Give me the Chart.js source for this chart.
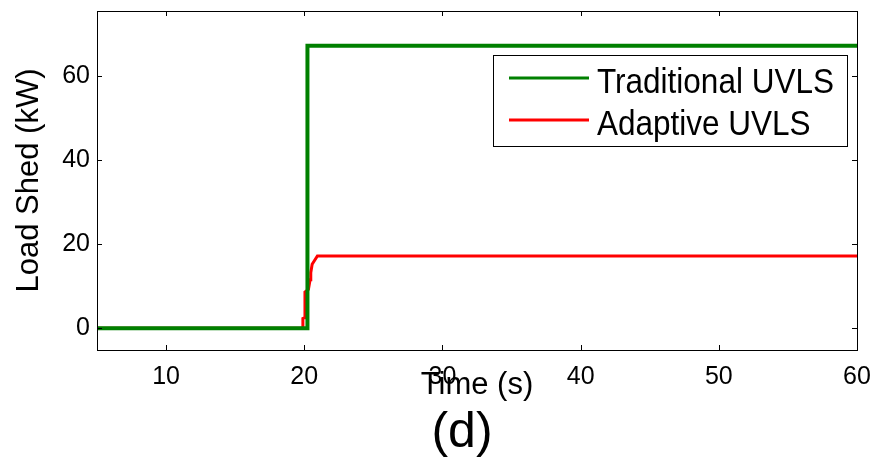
<!DOCTYPE html>
<html>
<head>
<meta charset="utf-8">
<script src="https://cdn.jsdelivr.net/npm/chart.js@4"></script>
<style>
  html, body { margin: 0; padding: 0; background: #fff; }
  #wrap { width: 873px; height: 459px; }
</style>
</head>
<body>
<div id="wrap"><canvas id="loadChart" width="873" height="459"></canvas></div>
<script>
// Load shed vs time
var tradTime = [5, 20.2, 20.23, 60];
var tradLoad = [0, 0, 67.2, 67.2];

var adaptTime = [5, 19.88, 19.9, 20.02, 20.05, 20.3, 20.42, 20.47, 20.57, 20.95, 60];
var adaptLoad = [0, 0, 2.3, 2.5, 8.6, 9.2, 11.5, 13.2, 15.2, 17.2, 17.2];

var xTickValues = [10, 20, 30, 40, 50, 60];
var yTickValues = [0, 20, 40, 60];

var seriesLabels = ['Traditional UVLS', 'Adaptive UVLS'];
var seriesColors = ['#008000', '#ff0000'];

function toPoints(xs, ys) {
  return xs.map(function (x, i) { return { x: x, y: ys[i] }; });
}

var FONT = "'Liberation Sans', Arial, sans-serif";

// box with inward ticks on all four sides, MATLAB style
var boxPlugin = {
  id: 'boxTicks',
  afterDatasetsDraw: function (chart) {
    var ctx = chart.ctx;
    var a = chart.chartArea;
    var xs = chart.scales.x, ys = chart.scales.y;
    var len = 5;
    ctx.save();
    ctx.strokeStyle = '#000';
    ctx.lineWidth = 1;
    ctx.strokeRect(a.left + 0.5, a.top + 0.5, a.right - a.left, a.bottom - a.top);
    ctx.beginPath();
    xTickValues.forEach(function (v) {
      var px = Math.round(xs.getPixelForValue(v)) + 0.5;
      ctx.moveTo(px, a.bottom); ctx.lineTo(px, a.bottom - len);
      ctx.moveTo(px, a.top); ctx.lineTo(px, a.top + len);
    });
    yTickValues.forEach(function (v) {
      var py = Math.round(ys.getPixelForValue(v)) + 0.5;
      ctx.moveTo(a.left, py); ctx.lineTo(a.left + len, py);
      ctx.moveTo(a.right, py); ctx.lineTo(a.right - len, py);
    });
    ctx.stroke();
    ctx.restore();
  }
};

// legend box in the upper right and the "(d)" caption
var legendPlugin = {
  id: 'boxLegend',
  afterDraw: function (chart) {
    var ctx = chart.ctx;
    var a = chart.chartArea;
    var right = a.right - 10, left = right - 354;
    var top = a.top + 44, bottom = top + 91;
    ctx.save();
    ctx.fillStyle = '#fff';
    ctx.fillRect(left, top, right - left, bottom - top);
    ctx.strokeStyle = '#000';
    ctx.lineWidth = 1;
    ctx.strokeRect(left + 0.5, top + 0.5, right - left, bottom - top);

    chart.data.datasets.forEach(function (ds, i) {
      var y = top + 23 + i * 42;
      ctx.strokeStyle = ds.borderColor;
      ctx.lineWidth = 3;
      ctx.beginPath();
      ctx.moveTo(left + 16, y);
      ctx.lineTo(left + 96, y);
      ctx.stroke();

      ctx.save();
      ctx.translate(left + 104, y + 15);
      ctx.scale(0.9, 1);
      ctx.fillStyle = '#000';
      ctx.font = '35px ' + FONT;
      ctx.textBaseline = 'alphabetic';
      ctx.fillText(ds.label, 0, 0);
      ctx.restore();
    });

    ctx.fillStyle = '#000';
    ctx.font = '50px ' + FONT;
    ctx.textAlign = 'center';
    ctx.textBaseline = 'alphabetic';
    ctx.fillText('(d)', 462, 447);
    ctx.restore();
  }
};

var ctx = document.getElementById('loadChart').getContext('2d');

var loadChart = new Chart(ctx, {
  type: 'line',
  data: {
    datasets: [{
      label: seriesLabels[0],
      data: toPoints(tradTime, tradLoad),
      borderColor: seriesColors[0],
      borderWidth: 4,
      pointRadius: 0,
      tension: 0,
      fill: false
    }, {
      label: seriesLabels[1],
      data: toPoints(adaptTime, adaptLoad),
      borderColor: seriesColors[1],
      borderWidth: 3,
      pointRadius: 0,
      tension: 0,
      fill: false
    }]
  },
  options: {
    responsive: false,
    animation: false,
    events: [],
    layout: { padding: { top: 11, right: 16, left: 0, bottom: 0 } },
    plugins: {
      legend: { display: false },
      tooltip: { enabled: false }
    },
    scales: {
      x: {
        type: 'linear',
        min: 5,
        max: 60,
        grid: { display: false, drawTicks: false },
        border: { display: false },
        ticks: {
          color: '#000',
          font: { family: FONT, size: 25 },
          padding: 12,
          maxRotation: 0,
          autoSkip: false
        },
        title: {
          display: true,
          text: 'Time (s)',
          color: '#000',
          font: { family: FONT, size: 31 },
          padding: { top: 0, bottom: 55 }
        },
        afterBuildTicks: function (scale) {
          scale.ticks = xTickValues.map(function (v) { return { value: v }; });
        },
        afterFit: function (scale) {
          scale.height = 109;
          scale.paddingLeft = 0;
          scale.paddingRight = 0;
        }
      },
      y: {
        type: 'linear',
        min: -5.2,
        max: 75.5,
        grid: { display: false, drawTicks: false },
        border: { display: false },
        ticks: {
          color: '#000',
          font: { family: FONT, size: 25 },
          padding: 7
        },
        title: {
          display: true,
          text: 'Load Shed (kW)',
          color: '#000',
          font: { family: FONT, size: 31 },
          padding: { top: 11, bottom: 0 }
        },
        afterBuildTicks: function (scale) {
          scale.ticks = yTickValues.map(function (v) { return { value: v }; });
        },
        afterFit: function (scale) {
          scale.width = 97;
          scale.paddingTop = 0;
          scale.paddingBottom = 0;
        }
      }
    }
  },
  plugins: [boxPlugin, legendPlugin]
});
</script>
</body>
</html>
